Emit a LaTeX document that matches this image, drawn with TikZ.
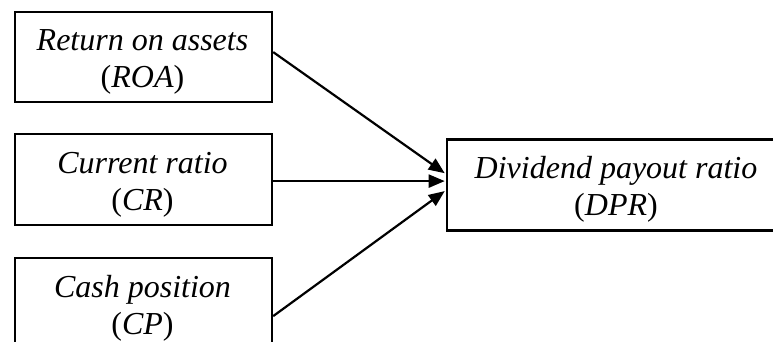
\documentclass[tikz,border=0pt]{standalone}
\usepackage{fontspec}
\setmainfont{Liberation Serif}
\usetikzlibrary{arrows.meta}
\begin{document}
\begin{tikzpicture}[x=1pt,y=-1pt,
  box/.style={draw, line width=2.2pt, rectangle, inner sep=0pt, anchor=north west},
  txt/.style={font=\fontsize{32}{37}\selectfont, inner sep=0pt, anchor=base},
  arr/.style={line width=2.2pt, -{Triangle[length=16pt,width=13pt]}}]
\useasboundingbox (0,0) rectangle (773,342);
\clip (0,0) rectangle (773,342);
\node[box, minimum width=257pt, minimum height=90pt] (roa) at (14,11) {};
\node[box, minimum width=257pt, minimum height=91pt] (cr) at (14,133) {};
\node[box, minimum width=257pt, minimum height=90pt] (cp) at (14,257) {};
\node[box, minimum width=340pt, minimum height=91pt] (dpr) at (445.7,138.3) {};
\node[txt] (troa) at (142.5,51) {\begin{tabular}[t]{@{}c@{}}\textit{Return on assets}\\(\textit{ROA})\end{tabular}};
\node[txt] (tcr) at (142.5,173) {\begin{tabular}[t]{@{}c@{}}\textit{Current ratio}\\(\textit{CR})\end{tabular}};
\node[txt] (tcp) at (142.5,297) {\begin{tabular}[t]{@{}c@{}}\textit{Cash position}\\(\textit{CP})\end{tabular}};
\node[txt] (tdpr) at (616,178) {\begin{tabular}[t]{@{}c@{}}\textit{Dividend payout ratio}\\(\textit{DPR})\end{tabular}};
\draw[arr] ([yshift=5pt]roa.east) -- ([xshift=-1pt,yshift=11.7pt]dpr.west);
\draw[arr] ([yshift=-1.5pt]cr.east) -- ([xshift=-1pt,yshift=3.8pt]dpr.west);
\draw[arr] ([yshift=-13pt]cp.east) -- ([xshift=-1pt,yshift=-6.2pt]dpr.west);
\end{tikzpicture}
\end{document}
